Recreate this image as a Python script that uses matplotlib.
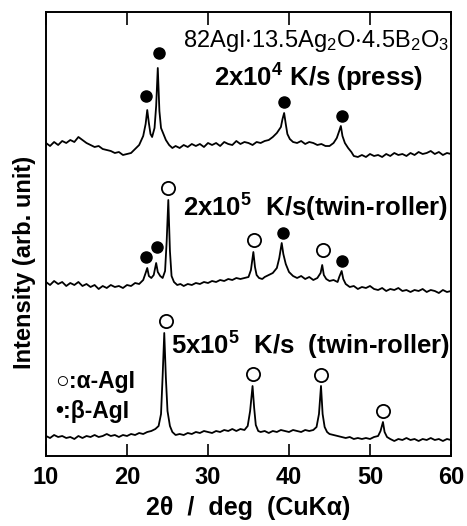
import numpy as np
import matplotlib
matplotlib.use('Agg')
import matplotlib.pyplot as plt

plt.rcParams['font.family'] = ['Liberation Sans', 'DejaVu Sans']
plt.rcParams['mathtext.fontset'] = 'custom'
plt.rcParams['mathtext.rm'] = 'Liberation Sans'
plt.rcParams['mathtext.bf'] = 'Liberation Sans:bold'
plt.rcParams['mathtext.default'] = 'regular'

# Patrones XRD (2theta, intensidad con offset en unidades arbitrarias)
tt_press = [10.0, 10.5, 11.0, 11.5, 12.0, 12.5, 13.0, 13.5, 14.0, 14.5, 15.0, 15.5, 16.0, 16.5,
            17.0, 17.5, 18.0, 18.5, 19.0, 19.5, 20.0, 20.5, 21.0, 21.5, 22.0, 22.3, 22.5, 22.7,
            22.9, 23.1, 23.4, 23.6, 23.8, 24.0, 24.2, 24.5, 24.8, 25.2, 25.6, 26.0, 26.5, 27.0,
            27.5, 28.0, 28.5, 29.0, 29.5, 30.0, 30.5, 31.0, 31.5, 32.0, 32.5, 33.0, 33.5, 34.0,
            34.5, 35.0, 35.5, 36.0, 36.5, 37.0, 37.5, 38.0, 38.5, 39.0, 39.2, 39.4, 39.6, 39.8,
            40.1, 40.5, 41.0, 41.5, 42.0, 42.5, 43.0, 43.5, 44.0, 44.5, 45.0, 45.5, 45.9, 46.2,
            46.4, 46.6, 46.9, 47.3, 47.7, 48.0, 48.5, 49.0, 49.5, 50.0, 50.5, 51.0, 51.5, 52.0,
            52.5, 53.0, 53.5, 54.0, 54.5, 55.0, 55.5, 56.0, 56.5, 57.0, 57.5, 58.0, 58.5, 59.0,
            59.5, 60.0]
I_press = [313, 310, 314, 311, 315, 313, 316, 314, 319, 316, 313, 311, 309, 310,
           307, 306, 305, 303, 304, 301, 302, 303, 307, 311, 320, 332, 346, 333,
           322, 319, 328, 350, 388, 345, 328, 322, 316, 311, 308, 310, 308, 311,
           309, 312, 310, 312, 309, 313, 311, 313, 310, 314, 312, 311, 315, 312,
           314, 313, 311, 314, 313, 315, 316, 319, 323, 329, 337, 343, 332, 322,
           317, 314, 313, 315, 312, 314, 313, 311, 312, 310, 310, 313, 318, 325,
           330, 320, 313, 308, 304, 300, 299, 301, 299, 302, 300, 301, 299, 302,
           300, 303, 301, 302, 300, 303, 301, 304, 302, 303, 305, 302, 304, 301,
           303, 302]

tt_2e5 = [10.0, 10.5, 11.0, 11.5, 12.0, 12.5, 13.0, 13.5, 14.0, 14.5, 15.0, 15.5, 16.0, 16.5,
          17.0, 17.5, 18.0, 18.5, 19.0, 19.5, 20.0, 20.5, 21.0, 21.5, 22.0, 22.3, 22.5, 22.7,
          23.0, 23.3, 23.6, 23.8, 24.1, 24.4, 24.7, 24.9, 25.1, 25.3, 25.5, 25.8, 26.2, 26.6,
          27.0, 27.5, 28.0, 28.5, 29.0, 29.5, 30.0, 30.5, 31.0, 31.5, 32.0, 32.5, 33.0, 33.5,
          34.0, 34.5, 35.0, 35.3, 35.6, 35.8, 36.0, 36.3, 36.7, 37.0, 37.5, 38.0, 38.5, 38.8,
          39.1, 39.3, 39.6, 40.0, 40.5, 41.0, 41.5, 42.0, 42.5, 43.0, 43.5, 43.9, 44.1, 44.3,
          44.6, 45.0, 45.5, 46.0, 46.2, 46.5, 46.7, 47.0, 47.5, 48.0, 48.5, 49.0, 49.5, 50.0,
          50.5, 51.0, 51.5, 52.0, 52.5, 53.0, 53.5, 54.0, 54.5, 55.0, 55.5, 56.0, 56.5, 57.0,
          57.5, 58.0, 58.5, 59.0, 59.5, 60.0]
I_2e5 = [174, 171, 175, 172, 174, 170, 173, 171, 174, 170, 172, 169, 171, 167,
         170, 168, 171, 169, 170, 168, 171, 170, 173, 172, 176, 183, 188, 180,
         178, 181, 193, 184, 180, 178, 185, 215, 256, 205, 180, 174, 171, 172,
         170, 172, 171, 173, 172, 174, 173, 175, 174, 176, 175, 177, 176, 178,
         177, 178, 179, 186, 204, 189, 181, 178, 177, 179, 181, 183, 188, 198,
         213, 202, 192, 184, 180, 178, 180, 177, 179, 176, 178, 183, 191, 181,
         177, 175, 176, 174, 179, 185, 177, 172, 169, 170, 167, 169, 168, 170,
         167, 166, 168, 165, 167, 166, 168, 165, 166, 164, 166, 165, 167, 164,
         166, 165, 163, 166, 164, 165]

tt_5e5 = [10.0, 10.5, 11.0, 11.5, 12.0, 12.5, 13.0, 13.5, 14.0, 14.5, 15.0, 15.5, 16.0, 16.5,
          17.0, 17.5, 18.0, 18.5, 19.0, 19.5, 20.0, 20.5, 21.0, 21.5, 22.0, 22.5, 23.0, 23.5,
          23.9, 24.2, 24.4, 24.6, 24.8, 25.0, 25.3, 25.6, 26.0, 26.5, 27.0, 27.5, 28.0, 28.5,
          29.0, 29.5, 30.0, 30.5, 31.0, 31.5, 32.0, 32.5, 33.0, 33.5, 34.0, 34.5, 34.9, 35.2,
          35.5, 35.7, 35.9, 36.2, 36.5, 37.0, 37.5, 38.0, 38.5, 39.0, 39.5, 40.0, 40.5, 41.0,
          41.5, 42.0, 42.5, 43.0, 43.4, 43.7, 43.95, 44.15, 44.4, 44.7, 45.0, 45.5, 46.0, 46.5,
          47.0, 47.5, 48.0, 48.5, 49.0, 49.5, 50.0, 50.5, 51.0, 51.3, 51.6, 51.8, 52.1, 52.5,
          53.0, 53.5, 54.0, 54.5, 55.0, 55.5, 56.0, 56.5, 57.0, 57.5, 58.0, 58.5, 59.0, 59.5,
          60.0]
I_5e5 = [20, 18, 21, 19, 20, 18, 19, 17, 20, 18, 20, 19, 21, 19,
         20, 22, 20, 21, 19, 21, 20, 22, 21, 23, 22, 24, 25, 27,
         30, 42, 80, 123, 78, 45, 30, 24, 21, 22, 21, 23, 22, 24,
         23, 25, 24, 23, 25, 24, 26, 25, 27, 25, 27, 26, 30, 45,
         70, 48, 31, 25, 24, 25, 23, 25, 24, 26, 25, 24, 26, 25,
         24, 26, 25, 26, 29, 42, 70, 42, 29, 24, 22, 21, 20, 19,
         18, 19, 17, 18, 17, 18, 17, 19, 20, 25, 34, 24, 19, 17,
         15, 17, 16, 18, 16, 17, 15, 17, 16, 18, 16, 17, 15, 17,
         16]

# posiciones de las marcas de fase
beta_tt = [22.4, 24.0, 39.4, 46.6, 22.3, 23.7, 39.2, 46.6]
beta_I = [360, 403, 354, 340, 199, 209, 223, 195]
alpha_tt = [25.1, 35.7, 44.2, 24.8, 35.5, 43.9, 51.6]
alpha_I = [268, 216, 206, 135, 82, 81, 45]

fig = plt.figure(figsize=(4.67, 5.26), dpi=100)
ax = fig.add_axes([46/467, 1 - 456/526, (451 - 46)/467, (456 - 12)/526])

ax.plot(tt_press, I_press, color='black', lw=1.3)
ax.plot(tt_2e5, I_2e5, color='black', lw=1.3)
ax.plot(tt_5e5, I_5e5, color='black', lw=1.3)

ax.plot(beta_tt, beta_I, 'o', color='black', ms=8, ls='none')
ax.plot(alpha_tt, alpha_I, 'o', mfc='white', mec='black', mew=1.3, ms=9.5, ls='none')

txt = dict(color='black', fontweight='bold')
ax.text(59.8, 409, r'82AgI$\cdot$13.5Ag$_{2}$O$\cdot$4.5B$_{2}$O$_{3}$', ha='right', va='baseline',
        fontsize=17, color='black')
ax.text(56.6, 369, r'2x10$^{\mathbf{4}}$ K/s (press)', ha='right', va='baseline', fontsize=18.5, **txt)
ax.text(59.6, 239, r'2x10$^{\mathbf{5}}$  K/s(twin-roller)', ha='right', va='baseline', fontsize=18.5, **txt)
ax.text(59.9, 101, r'5x10$^{\mathbf{5}}$  K/s  (twin-roller)', ha='right', va='baseline', fontsize=18.5, **txt)
ax.text(11.1, 68, '○:α-AgI', ha='left', va='baseline', fontsize=16.5, **txt)
ax.text(11.1, 38, '•:β-AgI', ha='left', va='baseline', fontsize=16.5, **txt)

ax.set_xlim(10, 60)
ax.set_ylim(0, 444)
ax.set_xticks([10, 20, 30, 40, 50, 60])
ax.set_yticks([])
ax.tick_params(axis='x', direction='in', top=True, length=9, width=1.2, labelsize=17, pad=7)
for lab in ax.get_xticklabels():
    lab.set_fontweight('bold')
for s in ax.spines.values():
    s.set_linewidth(1.4)

ax.set_xlabel('2θ  /  deg  (CuKα)', fontsize=18, fontweight='bold', labelpad=5)
fig.text(25/467, 1 - 262/526, 'Intensity (arb. unit)', rotation=90, ha='center', va='center',
         fontsize=17, fontweight='bold')

fig.savefig('out.png', dpi=100)
